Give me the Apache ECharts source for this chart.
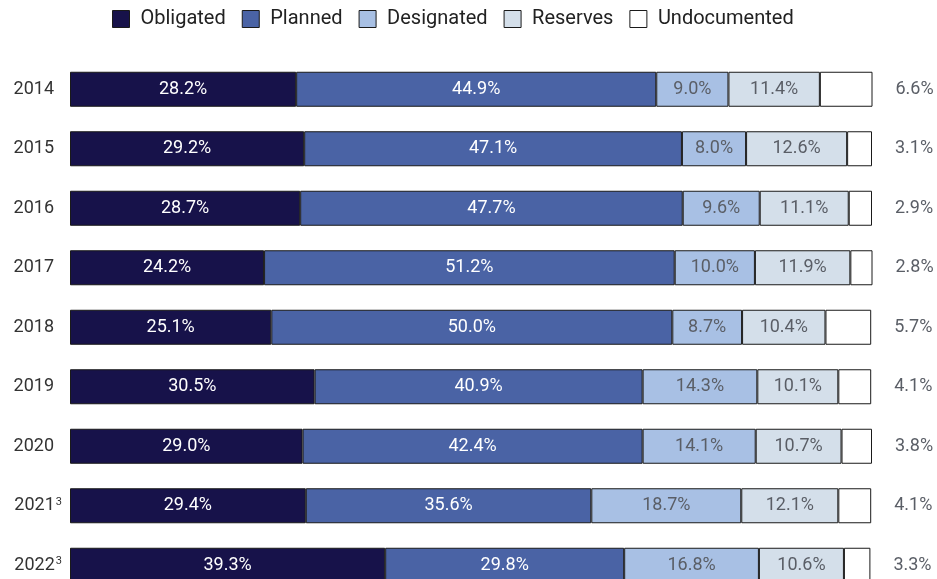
<!DOCTYPE html>
<html>
<head>
<meta charset="utf-8">
<script src="https://cdn.jsdelivr.net/npm/echarts@6/dist/echarts.min.js"></script>
<style>html,body{margin:0;padding:0;background:#fff}#c{width:937px;height:579px}</style>
</head>
<body>
<div id="c"></div>
<script>
const years = ['2014','2015','2016','2017','2018','2019','2020','2021','2022'];
const yearNotes = ['','','','','','','','3','3'];
const obligated = [28.2, 29.2, 28.7, 24.2, 25.1, 30.5, 29.0, 29.4, 39.3];
const planned = [44.9, 47.1, 47.7, 51.2, 50.0, 40.9, 42.4, 35.6, 29.8];
const designated = [9.0, 8.0, 9.6, 10.0, 8.7, 14.3, 14.1, 18.7, 16.8];
const reserves = [11.4, 12.6, 11.1, 11.9, 10.4, 10.1, 10.7, 12.1, 10.6];
const undocumented = [6.6, 3.1, 2.9, 2.8, 5.7, 4.1, 3.8, 4.1, 3.3];
const seriesNames = ['Obligated','Planned','Designated','Reserves','Undocumented'];

const colors = ['#17124a', '#4a63a5', '#a8c0e4', '#d4dfea', '#ffffff'];
const labelColors = ['#ffffff', '#ffffff', '#5a5e66', '#5a5e66', '#5a5e66'];
const FONT = 'Roboto';

const chart = echarts.init(document.getElementById('c'), null, {renderer: 'canvas'});
const dataSets = [obligated, planned, designated, reserves, undocumented];

const series = dataSets.map((d, i) => ({
  name: seriesNames[i],
  type: 'bar',
  stack: 'total',
  barWidth: 35,
  data: d,
  itemStyle: {color: colors[i], borderColor: '#1a1a1a', borderWidth: 1},
  emphasis: {disabled: true},
  label: i < 4 ? {
    show: true,
    position: 'inside',
    color: labelColors[i],
    fontFamily: FONT,
    fontSize: 18,
    formatter: p => p.value.toFixed(1) + '%'
  } : {
    show: true,
    position: 'right',
    distance: 23,
    color: '#5a5e66',
    fontFamily: FONT,
    fontSize: 18,
    formatter: p => p.value.toFixed(1) + '%'
  }
}));

chart.setOption({
  animation: false,
  color: colors,
  legend: {
    left: 107,
    top: 4,
    itemWidth: 17,
    itemHeight: 17,
    itemGap: 16,
    icon: 'rect',
    itemStyle: {borderColor: '#1a1a1a', borderWidth: 1},
    textStyle: {fontFamily: FONT, fontSize: 20, color: '#222', padding: [0, 0, 0, 6]},
    data: seriesNames
  },
  grid: {left: 70, width: 802, top: 59.5, height: 535.5, outerBoundsMode: 'none', containLabel: false},
  xAxis: {type: 'value', min: 0, max: 100, show: false},
  yAxis: {
    type: 'category',
    inverse: true,
    data: years,
    axisLine: {show: false},
    axisTick: {show: false},
    axisLabel: {
      margin: 8,
      formatter: (v, idx) => yearNotes[idx] ? '{a|' + v + '}{s|' + yearNotes[idx] + '}' : '{a|' + v + '}{p|}',
      rich: {
        a: {fontFamily: FONT, fontSize: 18, color: '#333'},
        s: {fontFamily: FONT, fontSize: 11, color: '#333', verticalAlign: 'top', padding: [0, 0, 8, 1]},
        p: {width: 8}
      }
    }
  },
  series: series
});
</script>
</body>
</html>
